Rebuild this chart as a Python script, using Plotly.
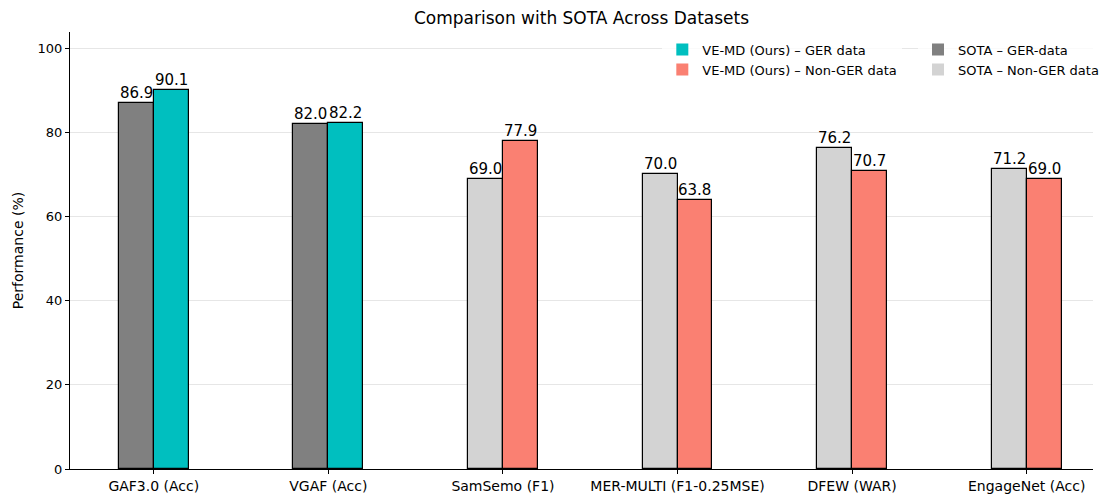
import plotly.graph_objects as go

categories = ["GAF3.0 (Acc)", "VGAF (Acc)", "SamSemo (F1)", "MER-MULTI (F1-0.25MSE)", "DFEW (WAR)", "EngageNet (Acc)"]
sota_values = [86.9, 82.0, 69.0, 70.0, 76.2, 71.2]
ours_values = [90.1, 82.2, 77.9, 63.8, 70.7, 69.0]
is_ger = [True, True, False, False, False, False]
y_ticks = [0, 20, 40, 60, 80, 100]

C_OURS_GER = "#00BFBF"
C_OURS_NON = "#FA8072"
C_SOTA_GER = "#808080"
C_SOTA_NON = "#D3D3D3"
W = 0.2

fig = go.Figure()
idx = list(range(len(categories)))
sota_colors = [C_SOTA_GER if g else C_SOTA_NON for g in is_ger]
ours_colors = [C_OURS_GER if g else C_OURS_NON for g in is_ger]

fig.add_trace(go.Bar(x=[i - W / 2 for i in idx], y=sota_values, width=W,
                     marker=dict(color=sota_colors, line=dict(color="black", width=1.2)),
                     showlegend=False, hoverinfo="y"))
fig.add_trace(go.Bar(x=[i + W / 2 for i in idx], y=ours_values, width=W,
                     marker=dict(color=ours_colors, line=dict(color="black", width=1.2)),
                     showlegend=False, hoverinfo="y"))

# legend-only entries, two columns via two legends
for name, col, lg in [("VE-MD (Ours) – GER data", C_OURS_GER, "legend"),
                      ("VE-MD (Ours) – Non-GER data", C_OURS_NON, "legend"),
                      ("SOTA – GER-data", C_SOTA_GER, "legend2"),
                      ("SOTA – Non-GER data", C_SOTA_NON, "legend2")]:
    fig.add_trace(go.Bar(x=[None], y=[None], name=name, legend=lg,
                         marker=dict(color=col, line=dict(width=0))))

for i in idx:
    fig.add_annotation(x=i - W / 2, y=sota_values[i], text=f"{sota_values[i]:.1f}", showarrow=False,
                       yanchor="bottom", xanchor="center", yshift=-1, font=dict(size=15, color="black"))
    fig.add_annotation(x=i + W / 2, y=ours_values[i], text=f"{ours_values[i]:.1f}", showarrow=False,
                       yanchor="bottom", xanchor="center", yshift=-1, font=dict(size=15, color="black"))

leg_common = dict(orientation="v", yanchor="top", xanchor="left", traceorder="normal",
                  font=dict(size=13), bgcolor="rgba(255,255,255,0.8)", itemsizing="constant",
                  tracegroupgap=0)

fig.update_layout(
    width=1104, height=495,
    margin=dict(l=70, r=0, t=32, b=26),
    paper_bgcolor="white", plot_bgcolor="white",
    font=dict(family="DejaVu Sans", size=13, color="black"),
    title=dict(text="Comparison with SOTA Across Datasets", x=0.5, xref="paper", xanchor="center",
               y=0.963, yref="container", yanchor="middle", font=dict(size=17)),
    barmode="overlay", bargap=0,
    showlegend=True,
    legend=dict(x=0.579, y=0.994, **leg_common),
    legend2=dict(x=0.829, y=0.994, **leg_common),
    xaxis=dict(range=[-0.48, 5.38], tickmode="array", tickvals=idx, ticktext=categories,
               showline=True, linecolor="black", linewidth=1.2, ticks="outside", ticklen=4,
               tickcolor="black", showgrid=False, zeroline=False, tickfont=dict(size=14)),
    yaxis=dict(range=[0, 103.8], tickmode="array", tickvals=y_ticks, showline=True,
               linecolor="black", linewidth=1.2, ticks="outside", ticklen=4, tickcolor="black",
               showgrid=True, gridcolor="#E6E6E6", gridwidth=1, zeroline=False,
               title=dict(text="Performance (%)", font=dict(size=14), standoff=10),
               tickfont=dict(size=13)),
)

fig.write_html("out.html", config={"displayModeBar": False},
               post_script="document.body.style.margin='0';document.body.style.overflow='hidden';")
